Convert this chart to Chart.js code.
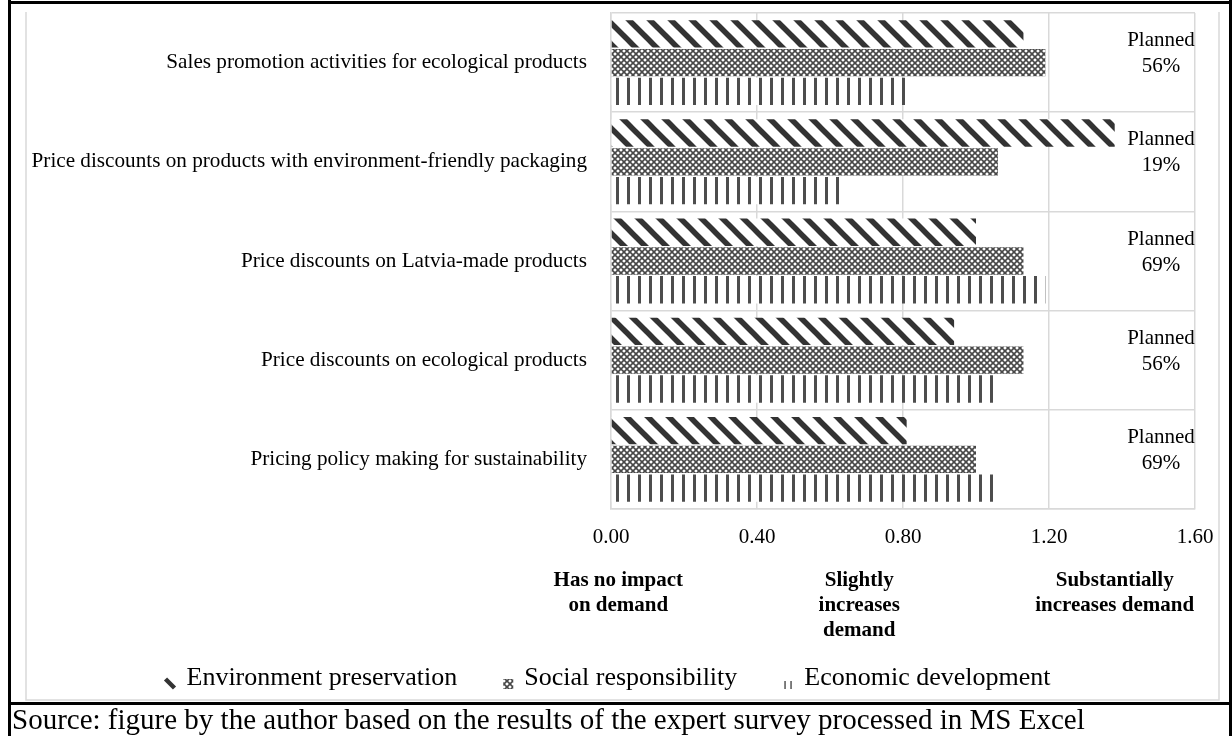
<!DOCTYPE html>
<html>
<head>
<meta charset="utf-8">
<script src="https://cdn.jsdelivr.net/npm/chart.js@4.4.1/dist/chart.umd.min.js"></script>
<style>
  html, body { margin: 0; padding: 0; background: #fff; }
  #wrap { width: 1232px; height: 736px; }
</style>
</head>
<body>
<div id="wrap"><canvas id="chart" width="1232" height="736"></canvas></div>
<script>
const categories = [
  'Sales promotion activities for ecological products',
  'Price discounts on products with environment-friendly packaging',
  'Price discounts on Latvia-made products',
  'Price discounts on ecological products',
  'Pricing policy making for sustainability'
];
const environmentPreservation = [1.13, 1.38, 1.00, 0.94, 0.81];
const socialResponsibility = [1.19, 1.06, 1.13, 1.13, 1.00];
const economicDevelopment = [0.81, 0.63, 1.19, 1.06, 1.06];
const plannedShare = [56, 19, 69, 56, 69];
const seriesNames = ['Environment preservation', 'Social responsibility', 'Economic development'];
const demandLevels = [
  ['Has no impact', 'on demand'],
  ['Slightly', 'increases', 'demand'],
  ['Substantially', 'increases demand']
];
const demandAt = [0.02, 0.68, 1.38];
const sourceNote = 'Source: figure by the author based on the results of the expert survey processed in MS Excel';

const SERIF = "'Liberation Serif', 'Times New Roman', serif";
const GRID = '#d9d9d9';

const canvas = document.getElementById('chart');
const ctx = canvas.getContext('2d');

function makePattern(w, h, draw) {
  const c = document.createElement('canvas');
  c.width = w;
  c.height = h;
  const g = c.getContext('2d');
  g.fillStyle = '#fff';
  g.fillRect(0, 0, w, h);
  draw(g);
  return ctx.createPattern(c, 'repeat');
}

// wide "\" stripes
const stripes = makePattern(21, 21, g => {
  g.strokeStyle = '#333';
  g.lineWidth = 5.5;
  for (const k of [-21, 0, 21]) {
    g.beginPath();
    g.moveTo(k - 2, -2);
    g.lineTo(k + 23, 23);
    g.stroke();
  }
});

// small diagonal lattice with white diamonds
const lattice = makePattern(6, 6, g => {
  g.strokeStyle = '#474747';
  g.lineWidth = 1.6;
  g.beginPath();
  g.moveTo(-1, -1); g.lineTo(7, 7);
  g.moveTo(7, -1); g.lineTo(-1, 7);
  g.stroke();
});

// vertical lines
const verticals = makePattern(11, 4, g => {
  g.fillStyle = '#4d4d4d';
  g.fillRect(0, 0, 3, 4);
});

// little legend markers, one per series
const markers = [
  (c, x, y) => {
    c.strokeStyle = '#333';
    c.lineWidth = 4.5;
    c.beginPath();
    c.moveTo(x, y + 1);
    c.lineTo(x + 9, y + 10);
    c.stroke();
  },
  (c, x, y) => {
    c.fillStyle = lattice;
    c.fillRect(x, y + 1, 10, 10);
  },
  (c, x, y) => {
    c.fillStyle = '#555';
    c.fillRect(x + 1, y + 3, 1.5, 8);
    c.fillRect(x + 7, y + 3, 1.5, 8);
  }
];

const decorations = {
  id: 'decorations',
  afterDraw(chart) {
    const c = chart.ctx;
    const x = chart.scales.x;
    const y = chart.scales.y;
    const area = chart.chartArea;
    c.save();

    // planned shares in the right column
    c.fillStyle = '#000';
    c.textAlign = 'center';
    c.textBaseline = 'middle';
    c.font = '21px ' + SERIF;
    plannedShare.forEach((p, i) => {
      const cy = y.getPixelForValue(i);
      c.fillText('Planned', area.right - 34, cy - 22);
      c.fillText(p + '%', area.right - 34, cy + 4);
    });

    // demand level captions under the axis
    c.font = 'bold 21px ' + SERIF;
    demandLevels.forEach((lines, i) => {
      const cx = x.getPixelForValue(demandAt[i]);
      lines.forEach((t, j) => c.fillText(t, cx, area.bottom + 72 + j * 25));
    });

    // legend
    c.font = '26px ' + SERIF;
    c.textAlign = 'left';
    const box = 11, gapIn = 10, gapOut = 46;
    const widths = seriesNames.map(n => c.measureText(n).width);
    const total = widths.reduce((a, b) => a + b, 0) + seriesNames.length * (box + gapIn) + gapOut * (seriesNames.length - 1);
    let lx = 608 - total / 2;
    const ly = 678;
    chart.data.datasets.forEach((ds, i) => {
      c.save();
      markers[i](c, lx, ly);
      c.restore();
      c.fillStyle = '#000';
      c.fillText(ds.label, lx + box + gapIn, ly);
      lx += box + gapIn + widths[i] + gapOut;
    });

    // figure frame
    c.strokeStyle = GRID;
    c.lineWidth = 1.5;
    c.beginPath();
    c.moveTo(26, 12);
    c.lineTo(26, 700);
    c.lineTo(1219, 700);
    c.lineTo(1219, 12);
    c.stroke();

    c.fillStyle = '#000';
    c.fillRect(8, 1, 1224, 3);
    c.fillRect(8, 0, 3, 736);
    c.fillRect(1229, 0, 3, 736);
    c.fillRect(8, 702, 1224, 3);

    c.font = '29px ' + SERIF;
    c.fillText(sourceNote, 12, 721);
    c.restore();
  }
};

new Chart(canvas, {
  type: 'bar',
  data: {
    labels: categories,
    datasets: [
      { label: seriesNames[0], data: environmentPreservation, backgroundColor: stripes },
      { label: seriesNames[1], data: socialResponsibility, backgroundColor: lattice },
      { label: seriesNames[2], data: economicDevelopment, backgroundColor: verticals }
    ]
  },
  options: {
    indexAxis: 'y',
    responsive: false,
    animation: false,
    categoryPercentage: 0.87,
    barPercentage: 0.95,
    borderWidth: 0,
    layout: { padding: { left: 10, right: 37, top: 13, bottom: 0 } },
    plugins: {
      legend: { display: false },
      tooltip: { enabled: false }
    },
    scales: {
      x: {
        min: 0,
        max: 1.6,
        ticks: {
          stepSize: 0.4,
          autoSkip: false,
          maxRotation: 0,
          padding: 16,
          color: '#000',
          font: { family: SERIF, size: 21 },
          callback: v => v.toFixed(2)
        },
        grid: { color: GRID, lineWidth: 1.5, drawTicks: false },
        border: { color: GRID, width: 1.5 },
        afterFit: s => { s.height = 227; }
      },
      y: {
        ticks: {
          padding: 24,
          color: '#000',
          font: { family: SERIF, size: 21.2 }
        },
        grid: { color: GRID, lineWidth: 1.5, drawTicks: false },
        border: { color: GRID, width: 1.5 },
        afterFit: s => {
          s.width = 601;
          s.paddingTop = 0;
          s.paddingBottom = 0;
        }
      }
    }
  },
  plugins: [decorations]
});
</script>
</body>
</html>
